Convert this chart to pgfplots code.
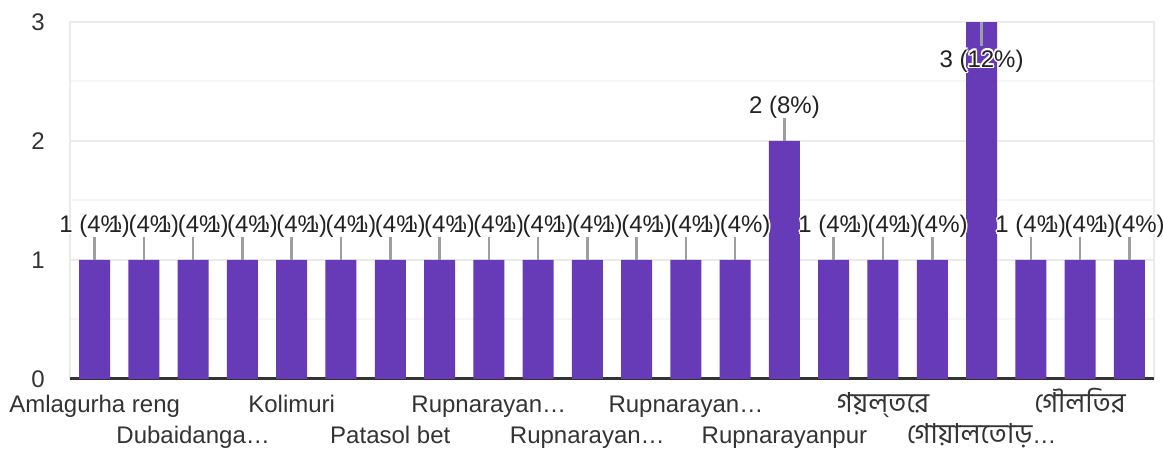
\documentclass[border=0pt]{standalone}
\usepackage{pgfplots}
\pgfplotsset{compat=1.18}
\usepackage{fontspec}
\setmainfont{Liberation Sans}
\newfontfamily\bn[Script=Bengali, Scale=1.15]{Hind Siliguri}
\definecolor{barc}{HTML}{673AB7}
\definecolor{gridc}{HTML}{EBEBEB}
\definecolor{minorc}{HTML}{F6F6F6}
\definecolor{txt}{HTML}{222222}
\definecolor{tickc}{HTML}{333333}
\definecolor{lead}{HTML}{9E9E9E}
\newcommand\fs{\fontsize{24}{28}\selectfont}
\newcommand\hl[3]{\rlap{\kern#1\raisebox{#2}{\textcolor{white}{#3}}}}
\newcommand\halo[1]{\hl{1.6pt}{0pt}{#1}\hl{-1.6pt}{0pt}{#1}\hl{0pt}{1.6pt}{#1}\hl{0pt}{-1.6pt}{#1}\hl{1.1pt}{1.1pt}{#1}\hl{-1.1pt}{1.1pt}{#1}\hl{1.1pt}{-1.1pt}{#1}\hl{-1.1pt}{-1.1pt}{#1}#1}
\begin{document}
\begin{tikzpicture}
\begin{axis}[
 at={(70pt,71pt)}, anchor=south west, scale only axis,
 width=1084pt, height=357pt,
 xmin=-0.5, xmax=21.5, ymin=0, ymax=3,
 clip=false,
 axis line style={draw=gridc, line width=2pt},
 ytick={0,1,2,3}, minor y tick num=1,
 ymajorgrids, yminorgrids,
 major grid style={draw=gridc, line width=2pt},
 minor grid style={draw=minorc, line width=2pt},
 major tick length=0pt, minor tick length=0pt,
 tick label style={font=\fs, text=tickc},
 yticklabel style={anchor=east, inner sep=0pt, xshift=-25pt},
 /pgf/number format/assume math mode=true,
 xtick={0,4,8,12,16,20},
 xticklabels={Amlagurha reng, Kolimuri, Rupnarayan…, Rupnarayan…, {\bn গয়ল্‌তরে}, {\bn গৌলতির}},
 xticklabel style={anchor=base, inner sep=0pt, yshift=-34pt},
 extra x ticks={2,6,10,14,18},
 extra x tick labels={Dubaidanga…, Patasol bet, Rupnarayan…, Rupnarayanpur, {{\bn গোয়ালতোড়}…}},
 extra x tick style={xticklabel style={yshift=-30pt}},
 extra y ticks={0}, extra y tick labels={},
 extra y tick style={major grid style={draw=black!80, line width=3pt}},
 bar width=31pt,
]
\addplot[ybar, fill=barc, draw=none] table[row sep=\\] {
x y\\
0 1\\ 1 1\\ 2 1\\ 3 1\\ 4 1\\ 5 1\\ 6 1\\ 7 1\\ 8 1\\ 9 1\\ 10 1\\
11 1\\ 12 1\\ 13 1\\ 14 2\\ 15 1\\ 16 1\\ 17 1\\ 18 3\\ 19 1\\ 20 1\\ 21 1\\
};
\addplot[draw=none, mark=none, forget plot,
 nodes near coords={\halo{\pgfplotspointmeta}},
 point meta=explicit symbolic,
 nodes near coords style={anchor=base, inner sep=0pt, yshift=27pt, font=\fs, text=txt},
 error bars/.cd, y dir=plus, y explicit, error mark=none,
 error bar style={draw=lead, line width=2.5pt}]
 table[row sep=\\, col sep=comma, x=x, y=y, y error plus=e, meta=lab] {
x,y,e,lab\\
0,1,0.193,1 (4\%)\\
1,1,0.193,1 (4\%)\\
2,1,0.193,1 (4\%)\\
3,1,0.193,1 (4\%)\\
4,1,0.193,1 (4\%)\\
5,1,0.193,1 (4\%)\\
6,1,0.193,1 (4\%)\\
7,1,0.193,1 (4\%)\\
8,1,0.193,1 (4\%)\\
9,1,0.193,1 (4\%)\\
10,1,0.193,1 (4\%)\\
11,1,0.193,1 (4\%)\\
12,1,0.193,1 (4\%)\\
13,1,0.193,1 (4\%)\\
14,2,0.193,2 (8\%)\\
15,1,0.193,1 (4\%)\\
16,1,0.193,1 (4\%)\\
17,1,0.193,1 (4\%)\\
19,1,0.193,1 (4\%)\\
20,1,0.193,1 (4\%)\\
21,1,0.193,1 (4\%)\\
};
\addplot[draw=none, mark=none, forget plot,
 nodes near coords={\halo{\pgfplotspointmeta}},
 point meta=explicit symbolic,
 nodes near coords style={anchor=base, inner sep=0pt, yshift=-45pt, font=\fs, text=txt},
 error bars/.cd, y dir=minus, y explicit, error mark=none,
 error bar style={draw=lead, line width=2.5pt}]
 table[row sep=\\, col sep=comma, x=x, y=y, y error minus=e, meta=lab] {
x,y,e,lab\\
18,3,0.205,3 (12\%)\\
};
\end{axis}
\pgfresetboundingbox
\useasboundingbox (0pt,0pt) rectangle (1163pt,450pt);
\end{tikzpicture}
\end{document}
